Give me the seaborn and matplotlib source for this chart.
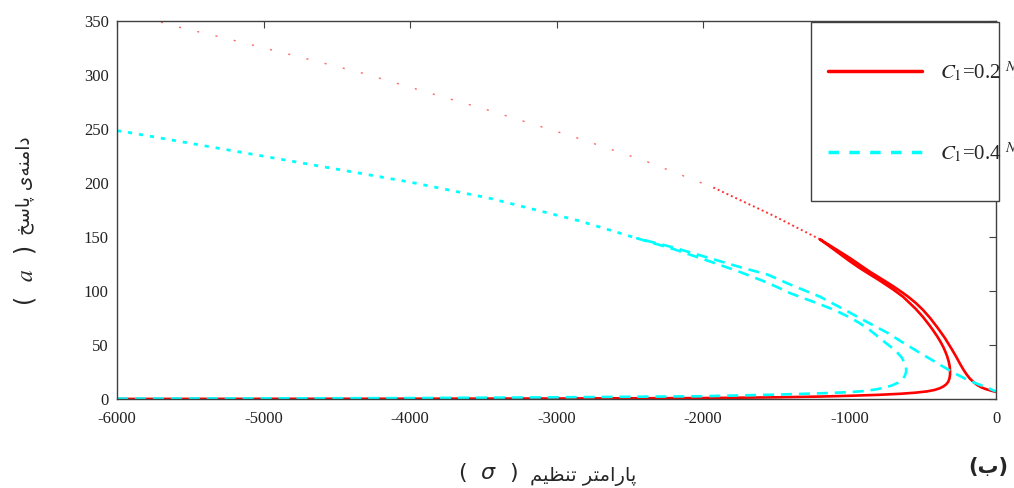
import numpy as np
import pandas as pd
import seaborn as sns
import matplotlib
matplotlib.use("Agg")
import matplotlib.pyplot as plt
from matplotlib.lines import Line2D
from matplotlib.patches import Rectangle

# C1 = 0.2 N/m (red): far upper branch, then lower branch -> turn -> inner -> outer
red_upper_sigma = [-5700, -5661, -5229, -4762, -4330, -3932, -3477, -2840, -2384, -1930, -1520, -1201]
red_upper_a = [349, 347, 333, 317, 302, 286, 268, 241, 220, 196, 170, 148]
red_sigma = [-6000, -5000, -4000, -3000, -2000, -1500, -1200, -1000, -800, -650, -550, -470,
             -420, -385, -360, -340, -326, -318, -314, -314, -317, -323, -334, -347, -360,
             -380, -400, -425, -451, -500, -550, -600, -635, -700, -750, -800, -860, -930,
             -1000, -1100, -1201,
             -1100, -1000, -930, -860, -800, -750, -700, -635, -600, -550, -500, -451, -400,
             -350, -300, -270, -246, -220, -200, -180, -157, -130, -100, -70, -40, -15, 0]
red_a = [0.5, 0.6, 0.7, 0.9, 1.3, 2.0, 2.7, 3.4, 4.3, 5.3, 6.3, 7.5,
         8.8, 10.3, 12, 14, 16.5, 19.5, 23, 27, 31, 35, 40, 44.5, 48.5,
         53.5, 58, 63, 68, 76.5, 84, 90.5, 95, 101.5, 106, 110.5, 115.5, 121.5,
         128, 138, 148,
         139.5, 131, 124.5, 118, 113, 108.8, 104.5, 98.5, 95, 89.5, 83, 75.5, 66.5,
         57, 46, 39, 33, 27, 23, 19.5, 16.5, 13.5, 11.2, 9.6, 8.4, 7.5, 7]

# C1 = 0.4 N/m (cyan)
cyan_upper_sigma = [-6000, -5945, -5001, -4000, -3454, -2840, -2450]
cyan_upper_a = [248.5, 247.5, 225, 201, 186, 165, 149]
cyan_sigma = [-6000, -5000, -4000, -3000, -2000, -1500, -1200, -1000, -900, -820, -760, -710,
              -670, -640, -622, -613, -615, -625, -645, -675, -703, -750, -800, -860, -930,
              -1000, -1100, -1201, -1400, -1560, -1750, -1950, -2200, -2450,
              -2200, -1950, -1750, -1560, -1400, -1201, -1000, -900, -746, -640, -519, -400,
              -294, -200, -120, -61, -25, 0]
cyan_a = [0.8, 1.0, 1.3, 2.0, 3.0, 4.5, 5.7, 6.8, 7.8, 9.3, 11, 13,
          15.5, 18.5, 22, 26, 30, 34, 39, 43.5, 47, 52, 57.5, 64, 70.5,
          76, 82.5, 88, 98, 108, 118, 127.5, 139, 149,
          140.5, 130.5, 122.5, 115.5, 106, 95, 80.5, 73, 62, 53, 43, 33.5,
          25, 18.5, 14, 11, 8.8, 7.5]

legend_labels = [r"$C_1$=0.2 $^{N}\!/\!_{m}$", r"$C_1$=0.4 $^{N}\!/\!_{m}$"]
x_ticks = np.arange(-6000, 1, 1000)
y_ticks = np.arange(0, 351, 50)

# Persian labels in visual (left-to-right) order with presentation forms
x_label_fa = "\uFEE2\uFBFF\uFEC8\uFEE8\uFE97 \uFEAE\uFE98\uFEE3\uFE8D\uFEAD\uFE8E\uFB58"
y_label_fa = "\uFEA6\uFEB3\uFE8E\uFB58 \uFBFC\uFEEA\uFEE8\uFEE3\uFE8D\uFEA9"
panel_fa = "(\uFE8F)"

sns.set_style("white")
plt.rcParams["font.family"] = ["Liberation Serif", "DejaVu Sans"]
plt.rcParams["mathtext.fontset"] = "stix"
plt.rcParams["axes.unicode_minus"] = False

red = "#ff0000"
cyan = "#00ffff"
edge = "#404040"

fig = plt.figure(figsize=(10.14, 4.88), dpi=100)
ax = fig.add_axes([0.1154, 0.1814, 0.8669, 0.7756])

red_up = pd.DataFrame({"sigma": red_upper_sigma, "a": red_upper_a})
cyan_up = pd.DataFrame({"sigma": cyan_upper_sigma, "a": cyan_upper_a})

# far part of the upper branches looks dotted in the original
sns.lineplot(data=red_up[red_up.sigma <= -1930], x="sigma", y="a", sort=False, estimator=None,
             color=red, lw=1.0, alpha=0.6, linestyle=(0, (1.5, 12)), ax=ax)
sns.lineplot(data=red_up[red_up.sigma >= -1930], x="sigma", y="a", sort=False, estimator=None,
             color=red, lw=1.4, alpha=0.8, linestyle=(0, (1, 1.5)), ax=ax)
sns.lineplot(data=cyan_up, x="sigma", y="a", sort=False, estimator=None,
             color=cyan, lw=2.0, linestyle=(0, (1.5, 2.5)), ax=ax)

sns.lineplot(x=red_sigma, y=red_a, sort=False, estimator=None, color=red, lw=1.9, ax=ax)
sns.lineplot(x=cyan_sigma, y=cyan_a, sort=False, estimator=None, color=cyan, lw=1.9,
             linestyle=(0, (4.2, 2.6)), ax=ax)

ax.set_xlim(-6000, 0)
ax.set_ylim(0, 350)
ax.set_xticks(x_ticks)
ax.set_yticks(y_ticks)
ax.set_xlabel("")
ax.set_ylabel("")
ax.tick_params(direction="in", top=True, right=True, length=5, width=0.8, color=edge,
               labelsize=12, labelcolor="#222222")
ax.tick_params(axis="x", pad=8)
ax.tick_params(axis="y", pad=6)
for s in ax.spines.values():
    s.set_visible(True)
    s.set_color(edge)
    s.set_linewidth(1.0)

# legend box, slightly wider than the axes like the original
ax.add_patch(Rectangle((0.7895, 0.5244), 0.2139, 0.473, transform=ax.transAxes,
                       facecolor="white", edgecolor=edge, lw=1.0, clip_on=False, zorder=3))
handles = [Line2D([], [], color=red, lw=2.5),
           Line2D([], [], color=cyan, lw=2.5, linestyle=(0, (3, 3)))]
ax.legend(handles, legend_labels, loc="upper left", bbox_to_anchor=(828 / 1014, 1 - 59 / 488),
          bbox_transform=fig.transFigure, frameon=False, fontsize=15, borderpad=0,
          borderaxespad=0, handlelength=4.5, handletextpad=0.9, labelspacing=2.7)

fig.text(583 / 1014, 1 - 476 / 488, x_label_fa, family="DejaVu Sans", fontsize=14,
         ha="center", va="center")
fig.text(488 / 1014, 1 - 473 / 488, r"(  $\sigma$  )", family="DejaVu Sans", fontsize=16,
         math_fontfamily="dejavusans", ha="center", va="center")
fig.text(25 / 1014, 1 - 186 / 488, y_label_fa, family="DejaVu Sans", fontsize=13.5,
         rotation=90, ha="center", va="center")
fig.text(25 / 1014, 1 - 276 / 488, r"(  $a$  )", family="DejaVu Sans", fontsize=17,
         rotation=90, ha="center", va="center")
fig.text(988 / 1014, 1 - 467 / 488, panel_fa, family="DejaVu Sans", fontsize=15,
         fontweight="bold", ha="center", va="center")

fig.savefig("out.png", dpi=100)
